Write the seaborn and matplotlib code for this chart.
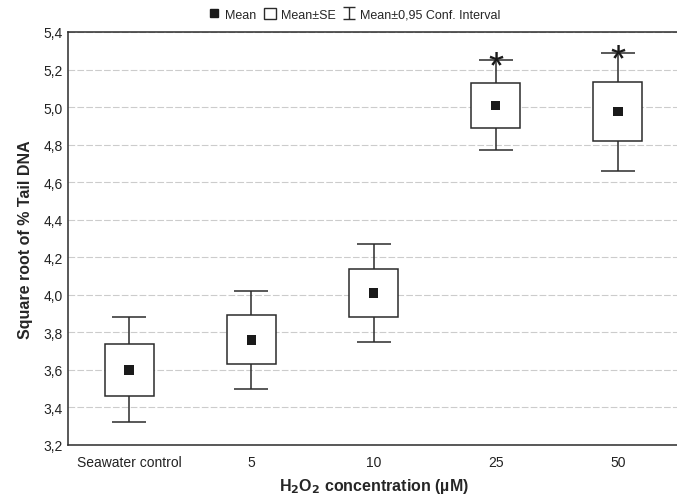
import numpy as np
import matplotlib
matplotlib.use("Agg")
import matplotlib.pyplot as plt
import seaborn as sns
from matplotlib.patches import Rectangle
from matplotlib.lines import Line2D
from matplotlib.path import Path
from matplotlib.ticker import FuncFormatter

# values
groups = ["Seawater control", "5", "10", "25", "50"]
means = [3.60, 3.76, 4.01, 5.01, 4.975]
se_low = [3.46, 3.63, 3.88, 4.89, 4.82]
se_high = [3.74, 3.89, 4.14, 5.13, 5.135]
ci_low = [3.32, 3.50, 3.75, 4.77, 4.66]
ci_high = [3.88, 4.02, 4.27, 5.25, 5.29]
significant = [False, False, False, True, True]

sns.set_style("white")
plt.rcParams["font.family"] = ["Liberation Sans", "DejaVu Sans"]

fig = plt.figure(figsize=(6.77, 5.02), dpi=100)
ax = fig.add_axes([68 / 677, 56 / 502, 611 / 677, 413 / 502])

x = np.arange(len(groups))
edge = "#2b2b2b"

# whiskers (confidence interval)
err = [np.array(means) - np.array(ci_low), np.array(ci_high) - np.array(means)]
ax.errorbar(x, means, yerr=err, fmt="none", ecolor=edge, elinewidth=1.1,
            capsize=12.5, capthick=1.1, zorder=2)

# boxes (mean +/- SE)
ax.bar(x, np.array(se_high) - np.array(se_low), bottom=se_low, width=0.4,
       facecolor="white", edgecolor=edge, linewidth=1.1, zorder=3)

# mean markers
sns.scatterplot(x=x, y=means, marker="s", s=45, color="#1a1a1a",
                edgecolor="none", ax=ax, zorder=4)

for xi, hi, sig in zip(x, ci_high, significant):
    if sig:
        ax.text(xi, hi - 0.04, "*", ha="center", va="center", fontsize=28,
                color="#1a1a1a", zorder=5)

ax.set_xlim(-0.5, 4.5)
ax.set_ylim(3.2, 5.4)
ax.set_xticks(x)
ax.set_xticklabels(groups)
ax.set_yticks(np.arange(3.2, 5.41, 0.2))
ax.yaxis.set_major_formatter(FuncFormatter(lambda v, p: f"{v:.1f}".replace(".", ",")))
ax.tick_params(axis="both", direction="in", length=4, width=1, colors=edge,
               labelsize=10, labelcolor="#222222")
ax.tick_params(axis="x", pad=7)
ax.yaxis.grid(True, linestyle=(0, (6, 2)), color="#cccccc", linewidth=0.8)
ax.set_axisbelow(True)
for s in ax.spines.values():
    s.set_color(edge)
    s.set_linewidth(1.1)

ax.set_ylabel("Square root of % Tail DNA", fontsize=11.5, fontweight="bold",
              labelpad=8)
ax.set_xlabel("H$_\\mathbf{2}$O$_\\mathbf{2}$ concentration (\u00b5M)", fontsize=11.5,
              fontweight="bold", labelpad=5)

# thin I-beam marker for the confidence-interval legend entry
ibeam = Path([(-1, 1), (1, 1), (0, 1), (0, -1), (-1, -1), (1, -1)],
             [Path.MOVETO, Path.LINETO, Path.MOVETO, Path.LINETO,
              Path.MOVETO, Path.LINETO])

handles = [
    Line2D([], [], marker="s", color="#1a1a1a", linestyle="none", markersize=6),
    Rectangle((0, 0), 1, 1, facecolor="white", edgecolor=edge, linewidth=1),
    Line2D([], [], marker=ibeam, color=edge, linestyle="none", markersize=9,
           markerfacecolor="none", markeredgewidth=1),
]
labels = ["Mean", "Mean\u00b1SE", "Mean\u00b10,95 Conf. Interval"]
fig.legend(handles, labels, loc="center", bbox_to_anchor=(0.523, 0.969), ncol=3,
           frameon=False, fontsize=9, handlelength=1.0, handleheight=1.0,
           handletextpad=0.35, columnspacing=0.6)

fig.savefig("out.png", dpi=100)
